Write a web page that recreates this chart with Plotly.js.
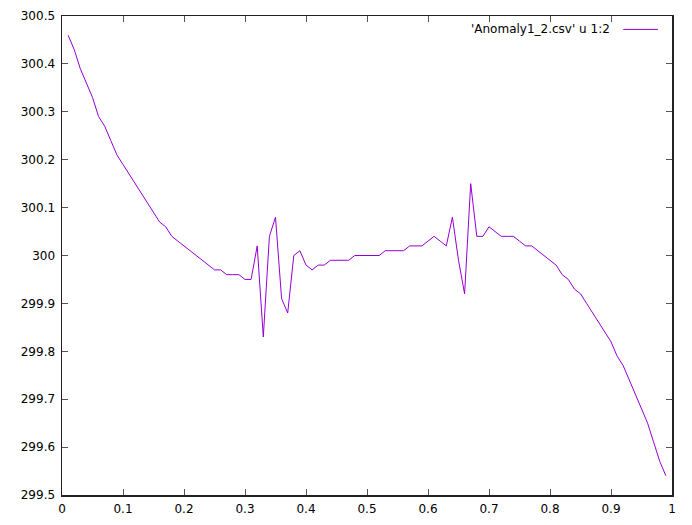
<!DOCTYPE html>
<html>
<head>
<meta charset="utf-8">
<script src="https://cdn.plot.ly/plotly-3.0.1.min.js"></script>
<style>html,body{margin:0;padding:0;background:#fff}#chart{width:692px;height:525px}</style>
</head>
<body>
<div id="chart"></div>
<script>
const seriesName = "'Anomaly1_2.csv' u 1:2";
const xValues = [
  0.01,0.02,0.03,0.04,0.05,0.06,0.07,0.08,0.09,0.10,
  0.11,0.12,0.13,0.14,0.15,0.16,0.17,0.18,0.19,0.20,
  0.21,0.22,0.23,0.24,0.25,0.26,0.27,0.28,0.29,0.30,
  0.31,0.32,0.33,0.34,0.35,0.36,0.37,0.38,0.39,0.40,
  0.41,0.42,0.43,0.44,0.45,0.46,0.47,0.48,0.49,0.50,
  0.51,0.52,0.53,0.54,0.55,0.56,0.57,0.58,0.59,0.60,
  0.61,0.62,0.63,0.64,0.65,0.66,0.67,0.68,0.69,0.70,
  0.71,0.72,0.73,0.74,0.75,0.76,0.77,0.78,0.79,0.80,
  0.81,0.82,0.83,0.84,0.85,0.86,0.87,0.88,0.89,0.90,
  0.91,0.92,0.93,0.94,0.95,0.96,0.97,0.98,0.99
];
const yValues = [
  300.46,300.43,300.39,300.36,300.33,300.29,300.27,300.24,300.21,300.19,
  300.17,300.15,300.13,300.11,300.09,300.07,300.06,300.04,300.03,300.02,
  300.01,300.00,299.99,299.98,299.97,299.97,299.96,299.96,299.96,299.95,
  299.95,300.02,299.83,300.04,300.08,299.91,299.88,300.00,300.01,299.98,
  299.97,299.98,299.98,299.99,299.99,299.99,299.99,300.00,300.00,300.00,
  300.00,300.00,300.01,300.01,300.01,300.01,300.02,300.02,300.02,300.03,
  300.04,300.03,300.02,300.08,299.99,299.92,300.15,300.04,300.04,300.06,
  300.05,300.04,300.04,300.04,300.03,300.02,300.02,300.01,300.00,299.99,
  299.98,299.96,299.95,299.93,299.92,299.90,299.88,299.86,299.84,299.82,
  299.79,299.77,299.74,299.71,299.68,299.65,299.61,299.57,299.54
];
const xTicks = [0,0.1,0.2,0.3,0.4,0.5,0.6,0.7,0.8,0.9,1];
const xTickText = ['0','0.1','0.2','0.3','0.4','0.5','0.6','0.7','0.8','0.9','1'];
const yTicks = [299.5,299.6,299.7,299.8,299.9,300,300.1,300.2,300.3,300.4,300.5];
const yTickText = ['299.5','299.6','299.7','299.8','299.9','300','300.1','300.2','300.3','300.4','300.5'];

const lineColor = '#9400d3';
const font = {family: 'DejaVu Sans, sans-serif', size: 12, color: '#000'};

const axisCommon = {
  showgrid: false, zeroline: false,
  showline: true, linecolor: '#222', linewidth: 1.5,
  mirror: 'allticks', ticks: 'inside', ticklen: 6, tickwidth: 1, tickcolor: '#555',
  tickfont: font
};

Plotly.newPlot('chart', [{
  x: xValues, y: yValues, type: 'scatter', mode: 'lines', name: seriesName,
  line: {color: lineColor, width: 1}, showlegend: false
}], {
  width: 692, height: 525,
  margin: {l: 62, r: 20, t: 16, b: 30},
  paper_bgcolor: '#fff', plot_bgcolor: '#fff',
  font: font,
  xaxis: Object.assign({}, axisCommon, {range: [0, 1], tickvals: xTicks, ticktext: xTickText, ticklabelstandoff: 2}),
  yaxis: Object.assign({}, axisCommon, {range: [299.5, 300.5], tickvals: yTicks, ticktext: yTickText, ticklabelstandoff: 3}),
  annotations: [{
    xref: 'paper', yref: 'paper', x: 0.901, y: 0.972, xanchor: 'right', yanchor: 'middle',
    text: seriesName, showarrow: false, font: font
  }],
  shapes: [{
    type: 'line', xref: 'paper', yref: 'paper', x0: 0.920, x1: 0.977, y0: 0.972, y1: 0.972,
    line: {color: lineColor, width: 1}
  }]
}, {staticPlot: true});
</script>
</body>
</html>
